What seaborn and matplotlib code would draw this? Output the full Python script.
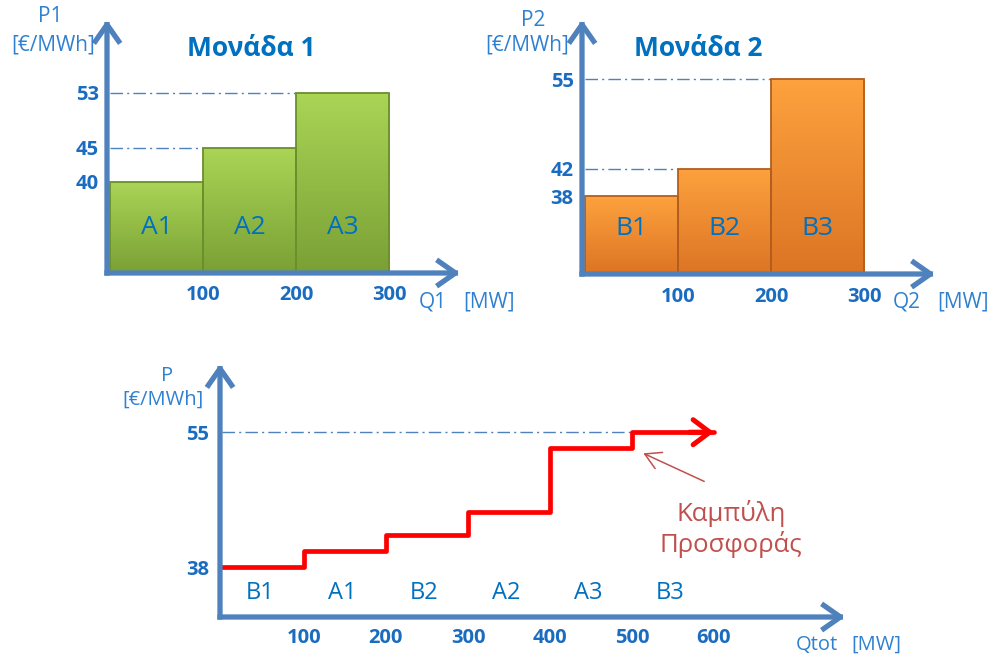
import numpy as np
import pandas as pd
import matplotlib
matplotlib.use("Agg")
import matplotlib.pyplot as plt
import seaborn as sns
from matplotlib.colors import LinearSegmentedColormap
from matplotlib.transforms import blended_transform_factory

# ---------------- data ----------------
q_edges = [0, 100, 200, 300]                 # MW, same blocks for both units
unit1_labels = ["A1", "A2", "A3"]
unit1_prices = [40, 45, 53]                  # €/MWh
unit2_labels = ["B1", "B2", "B3"]
unit2_prices = [38, 42, 55]                  # €/MWh
unit1_title = "Μονάδα 1"
unit2_title = "Μονάδα 2"
qtot_ticks = [100, 200, 300, 400, 500, 600]
curve_label = "Καμπύλη\nΠροσφοράς"

# ---------------- style ----------------
sns.set_theme(style="white")
plt.rcParams["font.family"] = ["Open Sans", "DejaVu Sans"]

W, H = 992, 657
fig = plt.figure(figsize=(W / 100, H / 100), dpi=100)
fig.patch.set_facecolor("white")

AXIS_BLUE = "#4f81bd"
TICK_BLUE = "#1a6cc0"
TITLE_BLUE = "#0070c0"
LABEL_BLUE = "#2f80d0"
RED_TXT = "#c0504d"
TICK_FS = 14.5
LAB_FS = 15


def px(x, y):
    return x / W, 1 - y / H


def axes_px(l, r, t, b):
    return fig.add_axes([l / W, 1 - b / H, (r - l) / W, (b - t) / H])


def ftext(x, y, s, **kw):
    kw.setdefault("ha", "center")
    kw.setdefault("va", "center")
    fig.text(*px(x, y), s, **kw)


def axis_arrows(ax, lw=3.8):
    props = dict(arrowstyle="->,head_length=0.6,head_width=0.42", lw=lw,
                 color=AXIS_BLUE, mutation_scale=20, shrinkA=0, shrinkB=0,
                 capstyle="projecting")
    ax.annotate("", xy=(1, 0), xycoords="axes fraction", xytext=(0, 0),
                arrowprops=props, zorder=10)
    ax.annotate("", xy=(0, 1), xycoords="axes fraction", xytext=(0, 0),
                arrowprops=props, zorder=10)


def clean(ax):
    for s in ax.spines.values():
        s.set_visible(False)
    ax.set_facecolor("none")
    ax.grid(False)
    ax.set_xlabel("")
    ax.set_ylabel("")


def gradient_bars(ax, c_bottom, c_top, edge):
    cmap = LinearSegmentedColormap.from_list("g", [c_bottom, c_top])
    grad = np.linspace(0, 1, 256).reshape(-1, 1)
    ylo = ax.get_ylim()[0]
    for p in list(ax.patches):
        bb = p.get_bbox()
        im = ax.imshow(grad, extent=[bb.x0, bb.x1, ylo, bb.y1], origin="lower",
                       aspect="auto", cmap=cmap, zorder=2)
        im.set_clip_path(p)
        p.set_facecolor("none")
        p.set_edgecolor(edge)
        p.set_linewidth(1.3)
        p.set_zorder(3)


def unit_panel(ax, labels, prices, c_bottom, c_top, edge):
    mids = [(a + b) / 2 for a, b in zip(q_edges[:-1], q_edges[1:])]
    df = pd.DataFrame({"q": mids, "p": prices})
    sns.histplot(data=df, x="q", weights="p", bins=q_edges, ax=ax,
                 color=c_top, alpha=1, edgecolor=edge, linewidth=1.2)
    ax.set_xlim(-3.2, 376.3)
    ax.set_ylim(26.7, 63.6)
    gradient_bars(ax, c_bottom, c_top, edge)
    ax.set_xlim(-3.2, 376.3)
    ax.set_ylim(26.7, 63.6)
    clean(ax)
    # dash-dot guide lines from the axis to each bar
    ax.hlines(prices, 0, q_edges[:-1], colors=AXIS_BLUE, lw=1,
              linestyles=[(0, (9, 3, 1.5, 3))], zorder=1)
    tr = blended_transform_factory(ax.transData, ax.transAxes)
    for m, lab in zip(mids, labels):
        ax.text(m, 0.178, lab, transform=tr, ha="center", va="center",
                fontsize=19, color=TITLE_BLUE, zorder=5)
    ax.set_xticks(q_edges[1:])
    ax.set_xticklabels([str(v) for v in q_edges[1:]])
    ax.set_yticks(prices)
    ax.set_yticklabels([str(v) for v in prices])
    ax.tick_params(axis="x", length=0, pad=9, labelsize=TICK_FS, labelcolor=TICK_BLUE)
    ax.tick_params(axis="y", length=0, pad=6, labelsize=TICK_FS, labelcolor=TICK_BLUE)
    for t in ax.get_xticklabels() + ax.get_yticklabels():
        t.set_fontweight("bold")
    axis_arrows(ax)


# ---------------- unit 1 ----------------
ax1 = axes_px(107, 460, 20, 273)
unit_panel(ax1, unit1_labels, unit1_prices, "#7aa035", "#aad556", "#6a8f2c")
ftext(50, 17, "P1", fontsize=LAB_FS, color=LABEL_BLUE)
ftext(53, 45, "[€/MWh]", fontsize=LAB_FS, color=LABEL_BLUE)
ftext(251, 48, unit1_title, fontsize=19, fontweight="bold", color=TITLE_BLUE)
ftext(433, 302, "Q1", fontsize=LAB_FS, color=LABEL_BLUE)
ftext(489, 302, "[MW]", fontsize=LAB_FS, color=LABEL_BLUE)

# ---------------- unit 2 ----------------
ax2 = axes_px(582, 935, 20, 274)
unit_panel(ax2, unit2_labels, unit2_prices, "#dc7424", "#fda23e", "#b35e1c")
ftext(533, 20, "P2", fontsize=LAB_FS, color=LABEL_BLUE)
ftext(527, 45, "[€/MWh]", fontsize=LAB_FS, color=LABEL_BLUE)
ftext(698, 48, unit2_title, fontsize=19, fontweight="bold", color=TITLE_BLUE)
ftext(907, 302, "Q2", fontsize=LAB_FS, color=LABEL_BLUE)
ftext(963, 302, "[MW]", fontsize=LAB_FS, color=LABEL_BLUE)

# ---------------- merit-order offer curve ----------------
blocks = sorted(
    [(p, lab, q_edges[i + 1] - q_edges[i]) for i, (p, lab) in enumerate(zip(unit1_prices, unit1_labels))]
    + [(p, lab, q_edges[i + 1] - q_edges[i]) for i, (p, lab) in enumerate(zip(unit2_prices, unit2_labels))]
)
m_prices = [b[0] for b in blocks]
m_labels = [b[1] for b in blocks]
m_qty = [b[2] for b in blocks]
cum = np.concatenate([[0], np.cumsum(m_qty)])
steps_x = list(cum)
steps_y = m_prices + [m_prices[-1]]

ax3 = axes_px(220, 845, 364, 617)
sns.lineplot(x=steps_x, y=steps_y, drawstyle="steps-post", color="#ff0000",
             lw=3.4, ax=ax3, zorder=4, sort=False, estimator=None)
ax3.annotate("", xy=(cum[-1], m_prices[-1]), xytext=(cum[-1] - 30, m_prices[-1]),
             arrowprops=dict(arrowstyle="->,head_length=0.6,head_width=0.45",
                             lw=3.6, color="#ff0000", mutation_scale=20,
                             shrinkA=0, shrinkB=0), zorder=5)
ax3.set_xlim(-2.4, 759.8)
ax3.set_ylim(31.7, 63.6)
clean(ax3)
ax3.hlines([m_prices[-1]], 0, cum[-2], colors=AXIS_BLUE, lw=1,
           linestyles=[(0, (9, 3, 1.5, 3))], zorder=1)
tr3 = blended_transform_factory(ax3.transData, ax3.transAxes)
for a, b, lab in zip(cum[:-1], cum[1:], m_labels):
    ax3.text((a + b) / 2 - 3, 0.095, lab, transform=tr3, ha="center", va="center",
             fontsize=17, color=TITLE_BLUE)
ax3.set_xticks(qtot_ticks)
ax3.set_xticklabels([str(v) for v in qtot_ticks])
ax3.set_yticks([m_prices[0], m_prices[-1]])
ax3.set_yticklabels([str(m_prices[0]), str(m_prices[-1])])
ax3.tick_params(axis="x", length=0, pad=8, labelsize=TICK_FS, labelcolor=TICK_BLUE)
ax3.tick_params(axis="y", length=0, pad=8, labelsize=TICK_FS, labelcolor=TICK_BLUE)
for t in ax3.get_xticklabels() + ax3.get_yticklabels():
    t.set_fontweight("bold")
axis_arrows(ax3)

# annotation arrow pointing to the last step corner
ax3.annotate("", xy=(cum[-2], m_prices[-2]), xytext=(52, -24),
             textcoords="offset points",
             arrowprops=dict(arrowstyle="->,head_length=0.7,head_width=0.4",
                             lw=1.1, color=RED_TXT, mutation_scale=16,
                             shrinkA=0, shrinkB=9))
ftext(731, 529, curve_label, fontsize=18.5, color=RED_TXT, linespacing=1.2)

ftext(167, 376, "P", fontsize=14.5, color=LABEL_BLUE)
ftext(163, 400, "[€/MWh]", fontsize=14.5, color=LABEL_BLUE)
ftext(817, 645, "Qtot", fontsize=14.5, color=LABEL_BLUE)
ftext(876, 645, "[MW]", fontsize=14.5, color=LABEL_BLUE)

fig.savefig("out.png", dpi=100, facecolor="white")
